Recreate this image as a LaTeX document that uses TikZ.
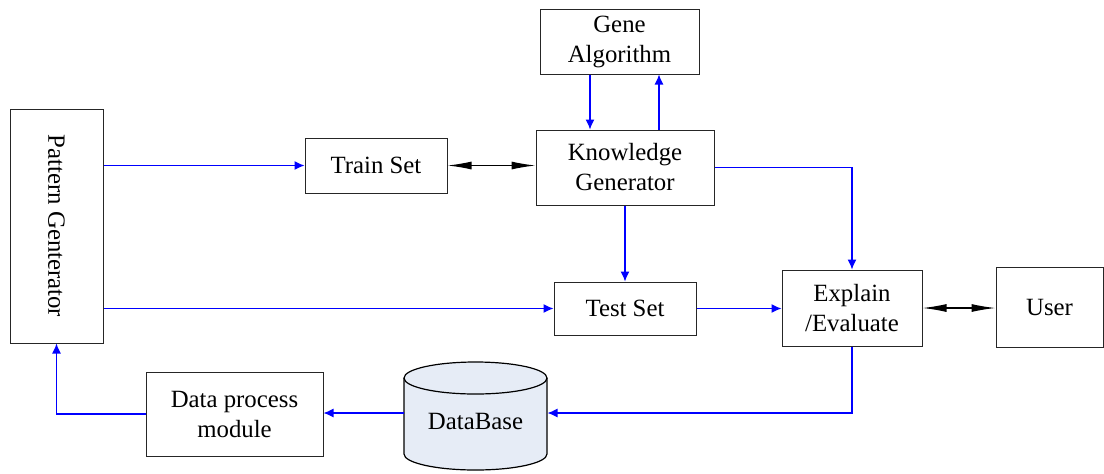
\documentclass[tikz,border=0pt]{standalone}
\usepackage{fontspec}
\setmainfont{Liberation Serif}
\usepackage{graphicx}
\usetikzlibrary{arrows.meta,calc}
\definecolor{dbfill}{RGB}{230,236,246}
\begin{document}
\begin{tikzpicture}[x=0.5pt,y=-0.5pt,
		box/.style={rectangle,draw=black!85,line width=0.5pt,inner sep=0pt,align=center,font=\fontsize{12.4}{15}\selectfont},
		blu/.style={color=blue,line width=0.6pt,-{Latex[length=5pt,width=4.5pt]}},
		dbl/.style={color=black,line width=0.6pt,{Latex[length=12pt,width=4pt]}-{Latex[length=12pt,width=4pt]}}]
		\useasboundingbox (0,0) rectangle (1104,473);

		\draw (56.5,226) node (pat) [box,minimum width=46.5pt,minimum height=117pt] {\rotatebox{-90}{Pattern Genterator}};
		\draw (376,165.5) node (train) [box,minimum width=71pt,minimum height=27.5pt] {Train Set};
		\draw (625,167.5) node (know) [box,minimum width=89pt,minimum height=37.5pt] {Knowledge\\Generator};
		\draw (619.5,41.5) node (gene) [box,minimum width=79.5pt,minimum height=32.5pt] {Gene\\Algorithm};
		\draw (625,308.5) node (test) [box,minimum width=71pt,minimum height=26.5pt] {Test Set};
		\draw (852,308) node (expl) [box,minimum width=70pt,minimum height=38pt] {Explain\\/Evaluate};
		\draw (1049.5,307) node (user) [box,minimum width=53.5pt,minimum height=40pt] {User};
		\draw (234.5,414) node (proc) [box,minimum width=88.5pt,minimum height=42pt] {Data process\\module};

		\draw[draw=black,line width=0.6pt,fill=dbfill] (404,378) -- (404,454) arc[start angle=180,end angle=360,x radius=35.75pt,y radius=8pt] -- (547,378) arc[start angle=0,end angle=180,x radius=35.75pt,y radius=8pt] -- cycle;
		\draw[draw=black,line width=0.6pt] (404,378) arc[start angle=180,end angle=360,x radius=35.75pt,y radius=8pt];
		\draw (475.5,421) node (db) [box,draw=none,minimum width=71.5pt,minimum height=54pt] {DataBase};
		\coordinate (dbe) at ($(db.east)+(0,-8)$);
		\coordinate (dbw) at ($(db.west)+(0,-8)$);

		\draw[blu] (pat.east |- train.west) -- (train.west);
		\draw[dbl] (train.east) -- (know.west |- train.east);
		\draw[blu] ($(gene.south)+(-29.5,0)$) coordinate (g1) -- (g1 |- know.north);
		\draw[blu] ($(know.north)+(34,0)$) coordinate (g2) -- (g2 |- gene.south);
		\draw[blu] (know.south) -- (test.north);
		\draw[blu] (know.east) -| (expl.north);
		\draw[blu] (pat.east |- test.west) -- (test.west);
		\draw[blu] (test.east) -- (expl.west |- test.east);
		\draw[dbl] (expl.east) -- (user.west |- expl.east);
		\draw[blu] (expl.south) |- (dbe);
		\draw[blu] (dbw) -- (proc.east |- dbw);
		\draw[blu] (proc.west) -| (pat.south);
	\end{tikzpicture}
\end{document}
